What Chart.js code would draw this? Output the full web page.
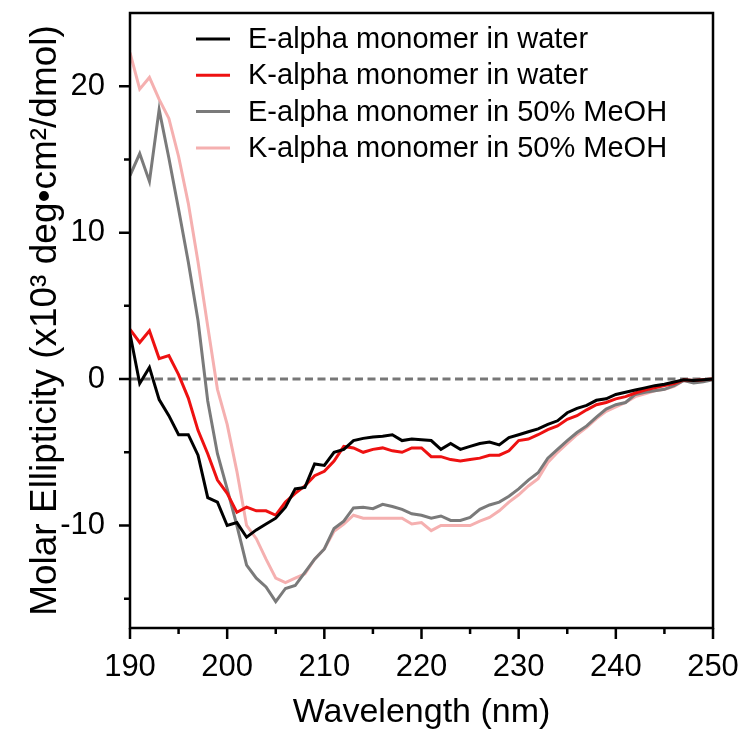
<!DOCTYPE html>
<html>
<head>
<meta charset="utf-8">
<script src="https://cdn.jsdelivr.net/npm/chart.js@4"></script>
<style>
  body { margin: 0; background: #fff; }
  #wrap { width: 744px; height: 738px; }
</style>
</head>
<body>
<div id="wrap"><canvas id="cd-chart" width="744" height="738"></canvas></div>
<script>
// CD spectra, wavelength in nm, ellipticity in 10^3 deg cm^2 / dmol
var wavelengths = [190, 191, 192, 193, 194, 195, 196, 197, 198, 199,
                   200, 201, 202, 203, 204, 205, 206, 207, 208, 209,
                   210, 211, 212, 213, 214, 215, 216, 217, 218, 219,
                   220, 221, 222, 223, 224, 225, 226, 227, 228, 229,
                   230, 231, 232, 233, 234, 235, 236, 237, 238, 239,
                   240, 241, 242, 243, 244, 245, 246, 247, 248, 249, 250];

var eAlphaWater = [3.1, -0.3, 0.8, -1.4, -2.5, -3.8, -3.8, -5.2, -8.1, -8.4,
                   -10.0, -9.8, -10.8, -10.3, -9.9, -9.5, -8.75, -7.5, -7.4, -5.8,
                   -5.9, -5.0, -4.8, -4.2, -4.05, -3.95, -3.9, -3.8, -4.2, -4.1,
                   -4.15, -4.2, -4.8, -4.4, -4.8, -4.6, -4.4, -4.3, -4.5, -4.0,
                   -3.8, -3.6, -3.4, -3.1, -2.85, -2.3, -2.0, -1.8, -1.45, -1.35,
                   -1.05, -0.9, -0.75, -0.6, -0.45, -0.35, -0.2, -0.05, -0.1, -0.05, 0];

var kAlphaWater = [3.4, 2.5, 3.3, 1.4, 1.6, 0.3, -1.3, -3.5, -5.1, -6.9,
                   -7.8, -9.1, -8.75, -9.0, -9.0, -9.3, -8.4, -7.8, -7.3, -6.6,
                   -6.3, -5.6, -4.6, -4.7, -5.0, -4.8, -4.7, -4.9, -5.0, -4.7,
                   -4.7, -5.3, -5.3, -5.5, -5.6, -5.5, -5.4, -5.2, -5.2, -4.9,
                   -4.2, -4.1, -3.8, -3.45, -3.2, -2.75, -2.5, -2.1, -1.75, -1.6,
                   -1.35, -1.2, -0.95, -0.75, -0.6, -0.45, -0.3, -0.05, -0.1, -0.05, 0];

var eAlphaMeoh = [13.9, 15.4, 13.5, 18.4, 15.1, 11.6, 8.0, 4.0, -1.5, -5.1,
                  -7.5, -10.0, -12.7, -13.6, -14.2, -15.2, -14.3, -14.1, -13.2, -12.3,
                  -11.6, -10.2, -9.7, -8.8, -8.75, -8.85, -8.55, -8.7, -8.9, -9.2,
                  -9.3, -9.5, -9.35, -9.65, -9.65, -9.45, -8.9, -8.6, -8.4, -8.0,
                  -7.5, -6.9, -6.4, -5.4, -4.8, -4.2, -3.65, -3.2, -2.6, -2.05,
                  -1.75, -1.6, -1.05, -0.9, -0.8, -0.7, -0.45, -0.1, -0.27, -0.18, -0.05];

var kAlphaMeoh = [22.3, 19.8, 20.6, 19.1, 17.8, 15.2, 12.0, 8.0, 3.6, -0.7,
                  -3.1, -6.3, -10.0, -10.9, -12.3, -13.6, -13.9, -13.6, -13.3, -12.3,
                  -11.6, -10.4, -9.9, -9.3, -9.5, -9.5, -9.5, -9.5, -9.5, -9.9,
                  -9.8, -10.35, -10.0, -10.0, -10.0, -10.0, -9.7, -9.45, -9.0, -8.4,
                  -7.9, -7.3, -6.8, -5.7, -5.0, -4.4, -3.8, -3.3, -2.7, -2.2,
                  -1.9, -1.6, -1.2, -1.0, -0.8, -0.7, -0.5, -0.1, -0.2, -0.1, 0];

var seriesLabels = ["E-alpha monomer in water", "K-alpha monomer in water",
                    "E-alpha monomer in 50% MeOH", "K-alpha monomer in 50% MeOH"];
var seriesColors = ["#000000", "#ee1111", "#7a7a7a", "#f5b0b0"];

var xTickValues = [190, 200, 210, 220, 230, 240, 250];
var xMinorValues = [195, 205, 215, 225, 235, 245];
var yTickValues = [-10, 0, 10, 20];
var yMinorValues = [-15, -5, 5, 15];

var FONT = "'Liberation Sans', Arial, sans-serif";

function toPoints(ys) {
    return wavelengths.map(function (x, i) { return { x: x, y: ys[i] }; });
}

var allSeries = [eAlphaWater, kAlphaWater, eAlphaMeoh, kAlphaMeoh];
var datasets = allSeries.map(function (ys, i) {
    return {
        label: seriesLabels[i],
        data: toPoints(ys),
        borderColor: seriesColors[i],
        borderWidth: 3,
        pointRadius: 0,
        tension: 0,
        fill: false
    };
});

// dashed zero line, box frame, outward ticks and the in-plot legend
var frame = {
    id: "frame",
    beforeDatasetsDraw: function (chart) {
        var ctx = chart.ctx, a = chart.chartArea;
        var y0 = chart.scales.y.getPixelForValue(0);
        ctx.save();
        ctx.strokeStyle = "#777";
        ctx.lineWidth = 3;
        ctx.setLineDash([8, 4.5]);
        ctx.beginPath();
        ctx.moveTo(a.left, y0);
        ctx.lineTo(a.right, y0);
        ctx.stroke();
        ctx.restore();
    },
    afterDraw: function (chart) {
        var ctx = chart.ctx, a = chart.chartArea;
        var xs = chart.scales.x, ys = chart.scales.y;
        ctx.save();
        ctx.strokeStyle = "#000";
        ctx.lineWidth = 2.5;
        ctx.strokeRect(a.left, a.top, a.right - a.left, a.bottom - a.top);

        ctx.beginPath();
        xTickValues.forEach(function (v) {
            var p = xs.getPixelForValue(v);
            ctx.moveTo(p, a.bottom); ctx.lineTo(p, a.bottom + 11);
        });
        xMinorValues.forEach(function (v) {
            var p = xs.getPixelForValue(v);
            ctx.moveTo(p, a.bottom); ctx.lineTo(p, a.bottom + 6);
        });
        yTickValues.forEach(function (v) {
            var p = ys.getPixelForValue(v);
            ctx.moveTo(a.left, p); ctx.lineTo(a.left - 11, p);
        });
        yMinorValues.forEach(function (v) {
            var p = ys.getPixelForValue(v);
            ctx.moveTo(a.left, p); ctx.lineTo(a.left - 6, p);
        });
        ctx.stroke();

        // legend
        ctx.font = "29px " + FONT;
        ctx.textBaseline = "middle";
        ctx.textAlign = "left";
        chart.data.datasets.forEach(function (ds, i) {
            var y = a.top + 26 + i * 36.3;
            ctx.strokeStyle = ds.borderColor;
            ctx.lineWidth = 3;
            ctx.beginPath();
            ctx.moveTo(196, y);
            ctx.lineTo(230, y);
            ctx.stroke();
            ctx.fillStyle = "#000";
            ctx.fillText(ds.label, 248, y + 1);
        });
        ctx.restore();
    }
};

new Chart(document.getElementById("cd-chart"), {
    type: "line",
    data: { datasets: datasets },
    options: {
        responsive: false,
        animation: false,
        layout: { padding: { top: 13, right: 31, left: 0, bottom: 0 } },
        plugins: {
            legend: { display: false },
            tooltip: { enabled: false }
        },
        scales: {
            x: {
                type: "linear",
                min: 190,
                max: 250,
                afterBuildTicks: function (s) {
                    s.ticks = xTickValues.map(function (v) { return { value: v }; });
                },
                afterFit: function (s) {
                    s.height = 110;
                    s.paddingLeft = 0;
                    s.paddingRight = 0;
                },
                grid: { display: false, drawTicks: false },
                border: { display: false },
                ticks: {
                    padding: 21,
                    color: "#000",
                    maxRotation: 0,
                    autoSkip: false,
                    font: { family: FONT, size: 31 }
                },
                title: {
                    display: true,
                    text: "Wavelength (nm)",
                    color: "#000",
                    font: { family: FONT, size: 34 },
                    padding: { top: 0, bottom: 5 }
                }
            },
            y: {
                type: "linear",
                min: -17,
                max: 25,
                afterBuildTicks: function (s) {
                    s.ticks = yTickValues.map(function (v) { return { value: v }; });
                },
                afterFit: function (s) {
                    s.width = 130;
                    s.paddingTop = 0;
                    s.paddingBottom = 0;
                },
                grid: { display: false, drawTicks: false },
                border: { display: false },
                ticks: {
                    padding: 25,
                    color: "#000",
                    autoSkip: false,
                    font: { family: FONT, size: 31 }
                },
                title: {
                    display: true,
                    text: "Molar Ellipticity (x10\u00b3 deg\u2022cm\u00b2/dmol)",
                    color: "#000",
                    font: { family: FONT, size: 37 },
                    padding: { top: 24, bottom: 0 }
                }
            }
        }
    },
    plugins: [frame]
});
</script>
</body>
</html>
